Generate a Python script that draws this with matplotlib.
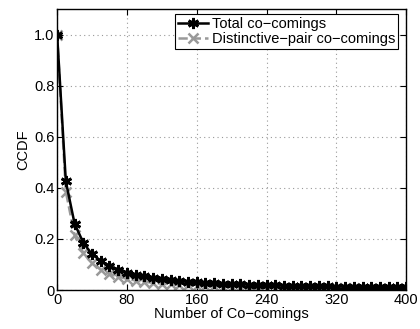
import matplotlib
matplotlib.use('Agg')
import matplotlib.pyplot as plt
import numpy as np

plt.rcParams['font.family'] = ['Liberation Sans', 'DejaVu Sans']
plt.rcParams['font.size'] = 10.5

# CCDF values, one point every 10 co-comings
x = np.arange(0, 401, 10)
total = [1.0, 0.425, 0.26, 0.185, 0.14, 0.115, 0.095, 0.08, 0.068, 0.06,
         0.053, 0.047, 0.042, 0.038, 0.035, 0.032, 0.03, 0.028, 0.026, 0.024,
         0.023, 0.022, 0.021, 0.02, 0.019, 0.018, 0.017, 0.016, 0.016, 0.015,
         0.014, 0.014, 0.013, 0.013, 0.012, 0.012, 0.011, 0.011, 0.011, 0.010,
         0.010]
distinct = [1.0, 0.385, 0.215, 0.145, 0.105, 0.08, 0.063, 0.052, 0.044, 0.037,
            0.032, 0.028, 0.025, 0.022, 0.02, 0.018, 0.016, 0.015, 0.014, 0.013,
            0.012, 0.011, 0.010, 0.010, 0.009, 0.009, 0.008, 0.008, 0.007, 0.007,
            0.007, 0.006, 0.006, 0.006, 0.006, 0.005, 0.005, 0.005, 0.005, 0.005,
            0.004]

xticks = [0, 80, 160, 240, 320, 400]
yticks = [0, 0.2, 0.4, 0.6, 0.8, 1.0]
yticklabels = ['0', '0.2', '0.4', '0.6', '0.8', '1.0']

fig = plt.figure(figsize=(4.2, 3.29), dpi=100)
ax = fig.add_axes([0.136, 0.1185, 0.831, 0.854])

# MATLAB-style asterisk: 6 spokes
ax.plot(x, total, color='black', linewidth=1.8, marker=(6, 2, 0), markersize=8,
        markeredgewidth=2, label='Total co\u2212comings', zorder=3)
ax.plot(x, distinct, color='#999999', linewidth=1.8, linestyle='--', marker='x',
        markersize=7, markeredgewidth=1.8,
        label='Distinctive\u2212pair co\u2212comings', zorder=2)

ax.set_xlim(0, 400)
ax.set_ylim(0, 1.1)
ax.set_xticks(xticks)
ax.set_yticks(yticks)
ax.set_yticklabels(yticklabels)
ax.tick_params(direction='in', top=True, right=True, length=4, pad=2)
ax.grid(True, linestyle=(0, (1, 3)), color='#999999', linewidth=0.8)
ax.set_xlabel('Number of Co\u2212comings', labelpad=0)
ax.set_ylabel('CCDF', labelpad=3)
for s in ax.spines.values():
    s.set_linewidth(1.0)

leg = ax.legend(loc='upper right', bbox_to_anchor=(0.977, 0.982), fancybox=False,
                edgecolor='black', borderpad=0.2, labelspacing=0.05,
                handlelength=2.1, handletextpad=0.25, borderaxespad=0,
                framealpha=1)
leg.get_frame().set_linewidth(0.8)

fig.savefig('out.png', dpi=100)
